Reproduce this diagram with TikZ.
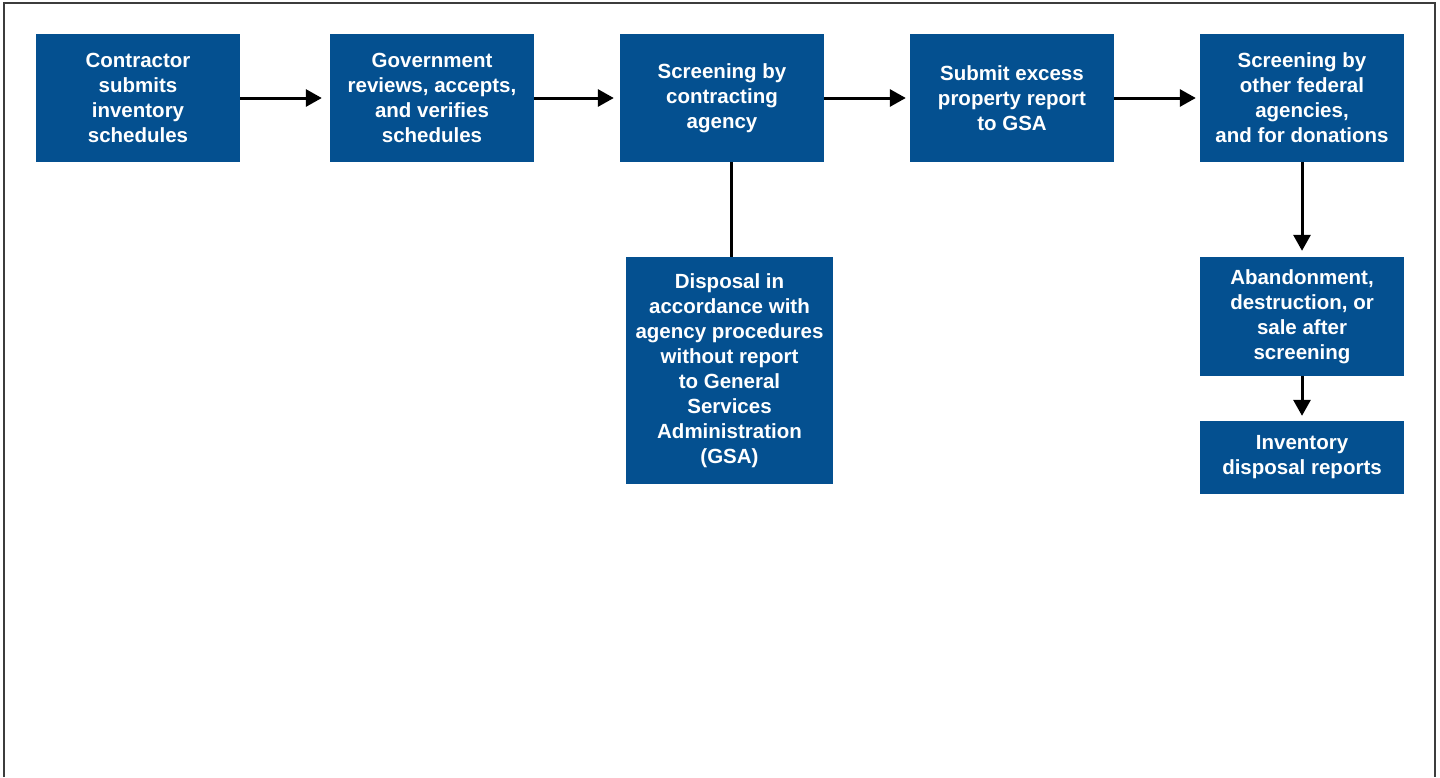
\documentclass[tikz,border=0pt]{standalone}
\usepackage{fontspec}
\setmainfont{Liberation Sans}
\usetikzlibrary{arrows.meta}
\definecolor{boxblue}{RGB}{4,80,144}
\definecolor{frame}{RGB}{60,60,60}
\tikzset{
  stepbox/.style={fill=boxblue, text=white, inner sep=0pt, align=center,
    font=\fontsize{20.5}{25}\selectfont\bfseries},
  flow/.style={line width=3pt, -{Triangle[length=16pt,width=17pt]}},
  plain/.style={line width=3pt}
}
\begin{document}
\begin{tikzpicture}[x=1pt,y=-1pt]
\useasboundingbox (0,0) rectangle (1440,777);
\draw[frame, line width=2pt] (4,777) -- (4,3) -- (1435,3) -- (1435,777);
\node[stepbox, minimum width=204pt, minimum height=128pt] (b1) at (138,98) {Contractor\\submits\\inventory\\schedules};
\node[stepbox, minimum width=204pt, minimum height=128pt] (b2) at (432,98) {Government\\reviews, accepts,\\and verifies\\schedules};
\node[stepbox, minimum width=204pt, minimum height=128pt] (b3) at (722,98) {Screening by\\contracting\\agency};
\node[stepbox, minimum width=204pt, minimum height=128pt] (b4) at (1012,98) {Submit excess\\property report\\to GSA};
\node[stepbox, minimum width=204pt, minimum height=128pt] (b5) at (1302,98) {Screening by\\other federal\\agencies,\\and for donations};
\node[stepbox, minimum width=207pt, minimum height=227pt] (d) at (729.5,370.5) {Disposal in\\accordance with\\agency procedures\\without report\\to General\\Services\\Administration\\(GSA)};
\node[stepbox, minimum width=204pt, minimum height=119pt] (a) at (1302,316.5) {Abandonment,\\destruction, or\\sale after\\screening};
\node[stepbox, minimum width=204pt, minimum height=73pt] (inv) at (1302,457.5) {Inventory\\disposal reports};
\coordinate (t2) at ([xshift=-8pt]b2.west);
\coordinate (t3) at ([xshift=-6pt]b3.west);
\coordinate (t4) at ([xshift=-4pt]b4.west);
\coordinate (t5) at ([xshift=-4pt]b5.west);
\draw[flow] (b1.east) -- (t2);
\draw[flow] (b2.east) -- (t3);
\draw[flow] (b3.east) -- (t4);
\draw[flow] (b4.east) -- (t5);
\draw[plain] (b3.south -| 731,0) -- (d.north -| 731,0);
\coordinate (ta) at ([yshift=6pt]a.north);
\coordinate (ti) at ([yshift=5pt]inv.north);
\draw[flow] (b5.south) -- (ta);
\draw[flow] (a.south) -- (ti);
\end{tikzpicture}
\end{document}
